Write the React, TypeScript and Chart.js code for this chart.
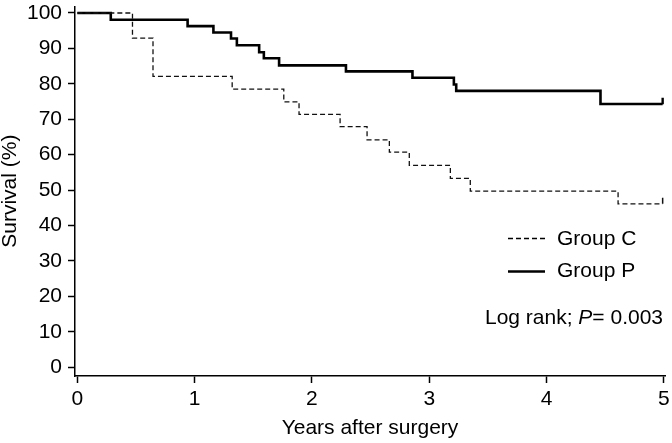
import React, { useEffect, useRef } from 'react';
import { Chart, registerables } from 'chart.js';

Chart.register(...registerables);

// ---- Data ----
const groupCTimes = [0, 0.47, 0.645, 1.32, 1.76, 1.89, 2.24, 2.47, 2.66, 2.83, 3.18, 3.35, 4.61, 4.99];
const groupCSurvival = [100, 92.9, 82.1, 78.5, 74.9, 71.4, 67.9, 64.2, 60.7, 57.0, 53.3, 49.7, 46.1, 46.1];
const groupPTimes = [0, 0.285, 0.94, 1.16, 1.31, 1.36, 1.55, 1.59, 1.72, 2.29, 2.857, 3.21, 3.23, 4.46, 4.99];
const groupPSurvival = [100, 98.1, 96.3, 94.5, 92.8, 90.9, 88.9, 87.2, 85.2, 83.5, 81.7, 79.8, 78.0, 74.3, 74.3];
const censorCTimes = [4.99];
const censorCValues = [46.95];
const censorPTimes = [4.99];
const censorPValues = [75.15];
const xTickValues = [0, 1, 2, 3, 4, 5];
const yTickValues = [0, 10, 20, 30, 40, 50, 60, 70, 80, 90, 100];
const seriesLabels = ['Group C', 'Group P'];
const xTitle = 'Years after surgery';
const yTitle = 'Survival (%)';
const statText = ['Log rank; ', 'P', '= 0.003'];

const FAMILY = "'Liberation Sans', Arial, Helvetica, sans-serif";
const FS = 21;

const toPoints = (xs: number[], ys: number[]) => xs.map((x, i) => ({ x, y: ys[i] }));

const legendPlugin = {
  id: 'kmLegend',
  afterDraw(chart: any) {
    const ctx = chart.ctx as CanvasRenderingContext2D;
    ctx.save();
    ctx.fillStyle = '#000';
    ctx.strokeStyle = '#000';
    ctx.textBaseline = 'middle';
    ctx.textAlign = 'left';
    ctx.font = `${FS}px ${FAMILY}`;
    // Group C (dashed)
    ctx.lineWidth = 1.3;
    ctx.setLineDash([5, 3]);
    ctx.beginPath();
    ctx.moveTo(508, 238.5);
    ctx.lineTo(545, 238.5);
    ctx.stroke();
    ctx.fillText(seriesLabels[0], 557, 239);
    // Group P (solid)
    ctx.setLineDash([]);
    ctx.lineWidth = 2.6;
    ctx.beginPath();
    ctx.moveTo(508, 271.5);
    ctx.lineTo(545, 271.5);
    ctx.stroke();
    ctx.fillText(seriesLabels[1], 557, 271);
    // Log rank text, right aligned
    const normal = `${FS}px ${FAMILY}`;
    const italic = `italic ${FS}px ${FAMILY}`;
    ctx.font = normal;
    const w0 = ctx.measureText(statText[0]).width;
    const w2 = ctx.measureText(statText[2]).width;
    ctx.font = italic;
    const w1 = ctx.measureText(statText[1]).width;
    const right = 663;
    let x = right - (w0 + w1 + w2);
    const y = 318;
    ctx.font = normal;
    ctx.fillText(statText[0], x, y);
    x += w0;
    ctx.font = italic;
    ctx.fillText(statText[1], x, y);
    x += w1;
    ctx.font = normal;
    ctx.fillText(statText[2], x, y);
    ctx.restore();
  },
};

export default function App() {
  const canvasRef = useRef<HTMLCanvasElement | null>(null);

  useEffect(() => {
    const canvas = canvasRef.current;
    if (!canvas) return;
    const chart = new Chart(canvas, {
      type: 'line',
      data: {
        datasets: [
          {
            label: seriesLabels[0],
            data: toPoints(groupCTimes, groupCSurvival),
            stepped: 'before',
            borderColor: '#111',
            borderWidth: 1.3,
            borderDash: [5, 3],
            pointRadius: 0,
            fill: false,
          },
          {
            label: seriesLabels[1],
            data: toPoints(groupPTimes, groupPSurvival),
            stepped: 'before',
            borderColor: '#000',
            borderWidth: 2.6,
            pointRadius: 0,
            fill: false,
          },
          {
            type: 'scatter',
            label: 'censor C',
            data: toPoints(censorCTimes, censorCValues),
            pointStyle: 'line',
            rotation: 90,
            pointRadius: 3,
            borderColor: '#111',
            borderWidth: 1.5,
          } as any,
          {
            type: 'scatter',
            label: 'censor P',
            data: toPoints(censorPTimes, censorPValues),
            pointStyle: 'line',
            rotation: 90,
            pointRadius: 3.3,
            borderColor: '#000',
            borderWidth: 2.4,
          } as any,
        ],
      },
      options: {
        responsive: false,
        animation: false,
        devicePixelRatio: 1,
        layout: { padding: { top: 0, right: 7, bottom: 0, left: 0 } },
        plugins: { legend: { display: false }, tooltip: { enabled: false } },
        scales: {
          x: {
            type: 'linear',
            min: -0.02,
            max: 5.01,
            afterBuildTicks: (s: any) => {
              s.ticks = xTickValues.map((v) => ({ value: v }));
            },
            afterFit: (s: any) => {
              s.height = 67;
              s.paddingLeft = 0;
              s.paddingRight = 0;
            },
            grid: { drawOnChartArea: false, drawTicks: true, tickLength: 7, tickWidth: 1.5, color: '#000' },
            border: { display: true, color: '#000', width: 1.5 },
            ticks: { color: '#000', font: { family: FAMILY, size: FS }, padding: 4, maxRotation: 0, autoSkip: false },
            title: {
              display: true,
              text: xTitle,
              color: '#000',
              font: { family: FAMILY, size: FS, lineHeight: 1 },
              padding: { top: 0, bottom: 4 },
            },
          },
          y: {
            type: 'linear',
            min: -2.5,
            max: 101.86,
            afterBuildTicks: (s: any) => {
              s.ticks = yTickValues.map((v) => ({ value: v }));
            },
            afterFit: (s: any) => {
              s.width = 75;
              s.paddingTop = 0;
              s.paddingBottom = 0;
            },
            grid: { drawOnChartArea: false, drawTicks: true, tickLength: 7, tickWidth: 1.5, color: '#000' },
            border: { display: true, color: '#000', width: 1.5 },
            ticks: { color: '#000', font: { family: FAMILY, size: FS }, padding: 6, autoSkip: false },
            title: {
              display: true,
              text: yTitle,
              color: '#000',
              font: { family: FAMILY, size: FS, lineHeight: 1 },
              padding: { top: 0, bottom: 0 },
            },
          },
        },
      },
      plugins: [legendPlugin],
    } as any);
    return () => chart.destroy();
  }, []);

  return (
    <div style={{ position: 'absolute', left: 0, top: 0, width: 672, height: 443, background: '#fff' }}>
      <canvas ref={canvasRef} width={672} height={443} style={{ display: 'block', width: 672, height: 443 }} />
    </div>
  );
}
